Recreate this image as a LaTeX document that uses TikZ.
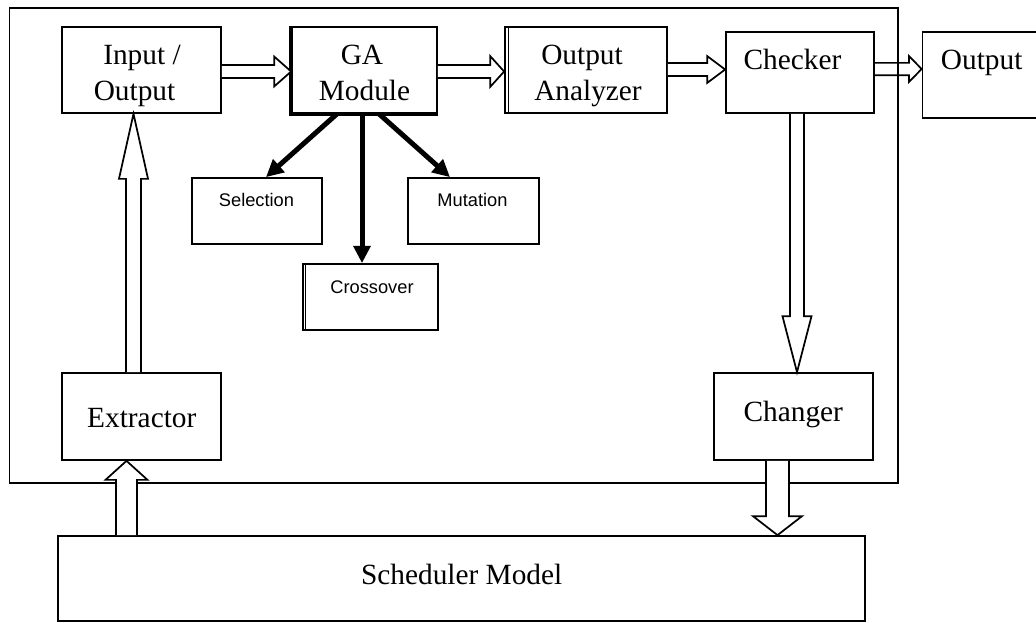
\documentclass[tikz,border=0pt]{standalone}
\usepackage{fontspec}
\setmainfont{Liberation Serif}
\newfontfamily\sansfam{Liberation Sans}
\usetikzlibrary{calc,arrows.meta}

% hollow block arrow: [style]{tail}{tip}{shaft half-width}{head length}{head half-width}
\newcommand\blockarrow[6][]{%
  \coordinate (ba-base) at ($(#3)!#5!(#2)$);
  \draw[blockarr,#1] ($(#2)!#4!90:(#3)$) -- ($(ba-base)!#4!90:(#3)$)
    -- ($(ba-base)!#6!90:(#3)$) -- (#3) -- ($(ba-base)!#6!-90:(#3)$)
    -- ($(ba-base)!#4!-90:(#3)$) -- ($(#2)!#4!-90:(#3)$);}

\begin{document}
\begin{tikzpicture}[x=0.75pt,y=-0.75pt,
  box/.style={draw,line width=1.3pt,rectangle,inner sep=0pt},
  serif/.style={font=\fontsize{22}{26}\selectfont,inner sep=0pt,anchor=base},
  sans/.style={font=\sansfam\fontsize{13.7}{16}\selectfont,inner sep=0pt,anchor=base},
  blockarr/.style={draw,line width=1.3pt,line join=miter,fill=white},
  thickarr/.style={line width=3.75pt,-{Triangle[length=13pt,width=12.5pt]}}]
\useasboundingbox (0,0) rectangle (1036,622);

% enclosing frame
\node[box,minimum width=666.4pt,minimum height=356.25pt] (frame) at (453.75,245.5) {};

% main blocks
\node[box,minimum width=119.25pt,minimum height=64.5pt] (io)  at (141.5,70) {};
\node[box,minimum width=108.75pt,minimum height=64.5pt] (ga)  at (364.5,70) {};
\node[box,minimum width=121.5pt,minimum height=64.5pt]  (oa)  at (586,70) {};
\node[box,minimum width=111pt,minimum height=60.75pt]   (chk) at (800,72.5) {};
\node[box,minimum width=87.75pt,minimum height=64.5pt]  (out) at (981,75) {};
\node[box,minimum width=97.5pt,minimum height=49.5pt]   (sel) at (257,211) {};
\node[box,minimum width=98.25pt,minimum height=49.5pt]  (mut) at (473.5,211) {};
\node[box,minimum width=101.25pt,minimum height=49.5pt] (cro) at (370.5,297) {};
\node[box,minimum width=119.25pt,minimum height=65.25pt] (ext) at (141.5,416.5) {};
\node[box,minimum width=119.25pt,minimum height=65.25pt] (chg) at (793.5,416.5) {};
\node[box,minimum width=605.25pt,minimum height=63.75pt] (sch) at (461.5,578.5) {};

% heavier / doubled edges
\draw[line width=3pt] (ga.north west) -- (ga.south west) -- (ga.south east);
\draw[line width=0.75pt] ([xshift=3pt]oa.north west) -- ([xshift=3pt]oa.south west);
\draw[line width=0.75pt] ([xshift=2.6pt]cro.north west) -- ([xshift=2.6pt]cro.south west);

% labels
\node[serif] (tio1) at (142,64.5) {Input /};
\node[serif] (tio2) at (134.5,100) {Output};
\node[serif] (tga1) at (362,64.5) {GA};
\node[serif] (tga2) at (364.5,100) {Module};
\node[serif] (toa1) at (582,64.5) {Output};
\node[serif] (toa2) at (588,100) {Analyzer};
\node[serif] (tchk) at (792.5,69.3) {Checker};
\node[serif] (tout) at (981.7,69) {Output};
\node[serif] (tex1) at (141.8,427) {Extractor};
\node[serif] (tchg) at (793.3,421) {Changer};
\node[serif] (tsch) at (461.7,584) {Scheduler Model};
\node[sans] (tsel) at (256.5,206) {Selection};
\node[sans] (tmut) at (472.5,206) {Mutation};
\node[sans] (tcro) at (372,293) {Crossover};

% GA operators
\draw[thickarr] (ga.south -| 337,0) -- (sel.north -| 266,0);
\draw[thickarr] (ga.south -| 362,0) -- (cro.north -| 362,0);
\draw[thickarr] (ga.south -| 379,0) -- (mut.north -| 450,0);

% block arrows
\coordinate (a1t) at (io.east |- 0,71.5);   \coordinate (a1h) at (ga.west |- 0,71.5);
\coordinate (a2t) at (ga.east |- 0,71.5);   \coordinate (a2h) at (oa.west |- 0,71.5);
\coordinate (a3t) at (oa.east |- 0,69.5);   \coordinate (a3h) at (chk.west |- 0,69.5);
\coordinate (a4t) at (chk.east |- 0,69);    \coordinate (a4h) at (out.west |- 0,69);
\coordinate (a5t) at (ext.north -| 133.5,0); \coordinate (a5h) at (io.south -| 133.5,0);
\coordinate (a6t) at (chk.south -| 797,0);  \coordinate (a6h) at (chg.north -| 797,0);
\coordinate (a7t) at (sch.north -| 126.5,0); \coordinate (a7h) at (ext.south -| 126.5,0);
\coordinate (a8t) at (chg.south -| 777.5,0); \coordinate (a8h) at (sch.north -| 777.5,0);

\blockarrow{a1t}{a1h}{4.9pt}{12.75pt}{11.25pt}
\blockarrow{a2t}{a2h}{4.9pt}{10.5pt}{11.6pt}
\blockarrow{a3t}{a3h}{4.9pt}{13.5pt}{10.1pt}
\blockarrow[fill=none]{a4t}{a4h}{4.6pt}{9.5pt}{9.75pt}
\blockarrow{a5t}{a5h}{5.6pt}{48.75pt}{10.9pt}
\blockarrow{a6t}{a6h}{5.25pt}{42pt}{10.9pt}
\blockarrow{a7t}{a7h}{7.9pt}{14.25pt}{15.75pt}
\blockarrow{a8t}{a8h}{8.6pt}{14.25pt}{18.4pt}
\end{tikzpicture}
\end{document}
